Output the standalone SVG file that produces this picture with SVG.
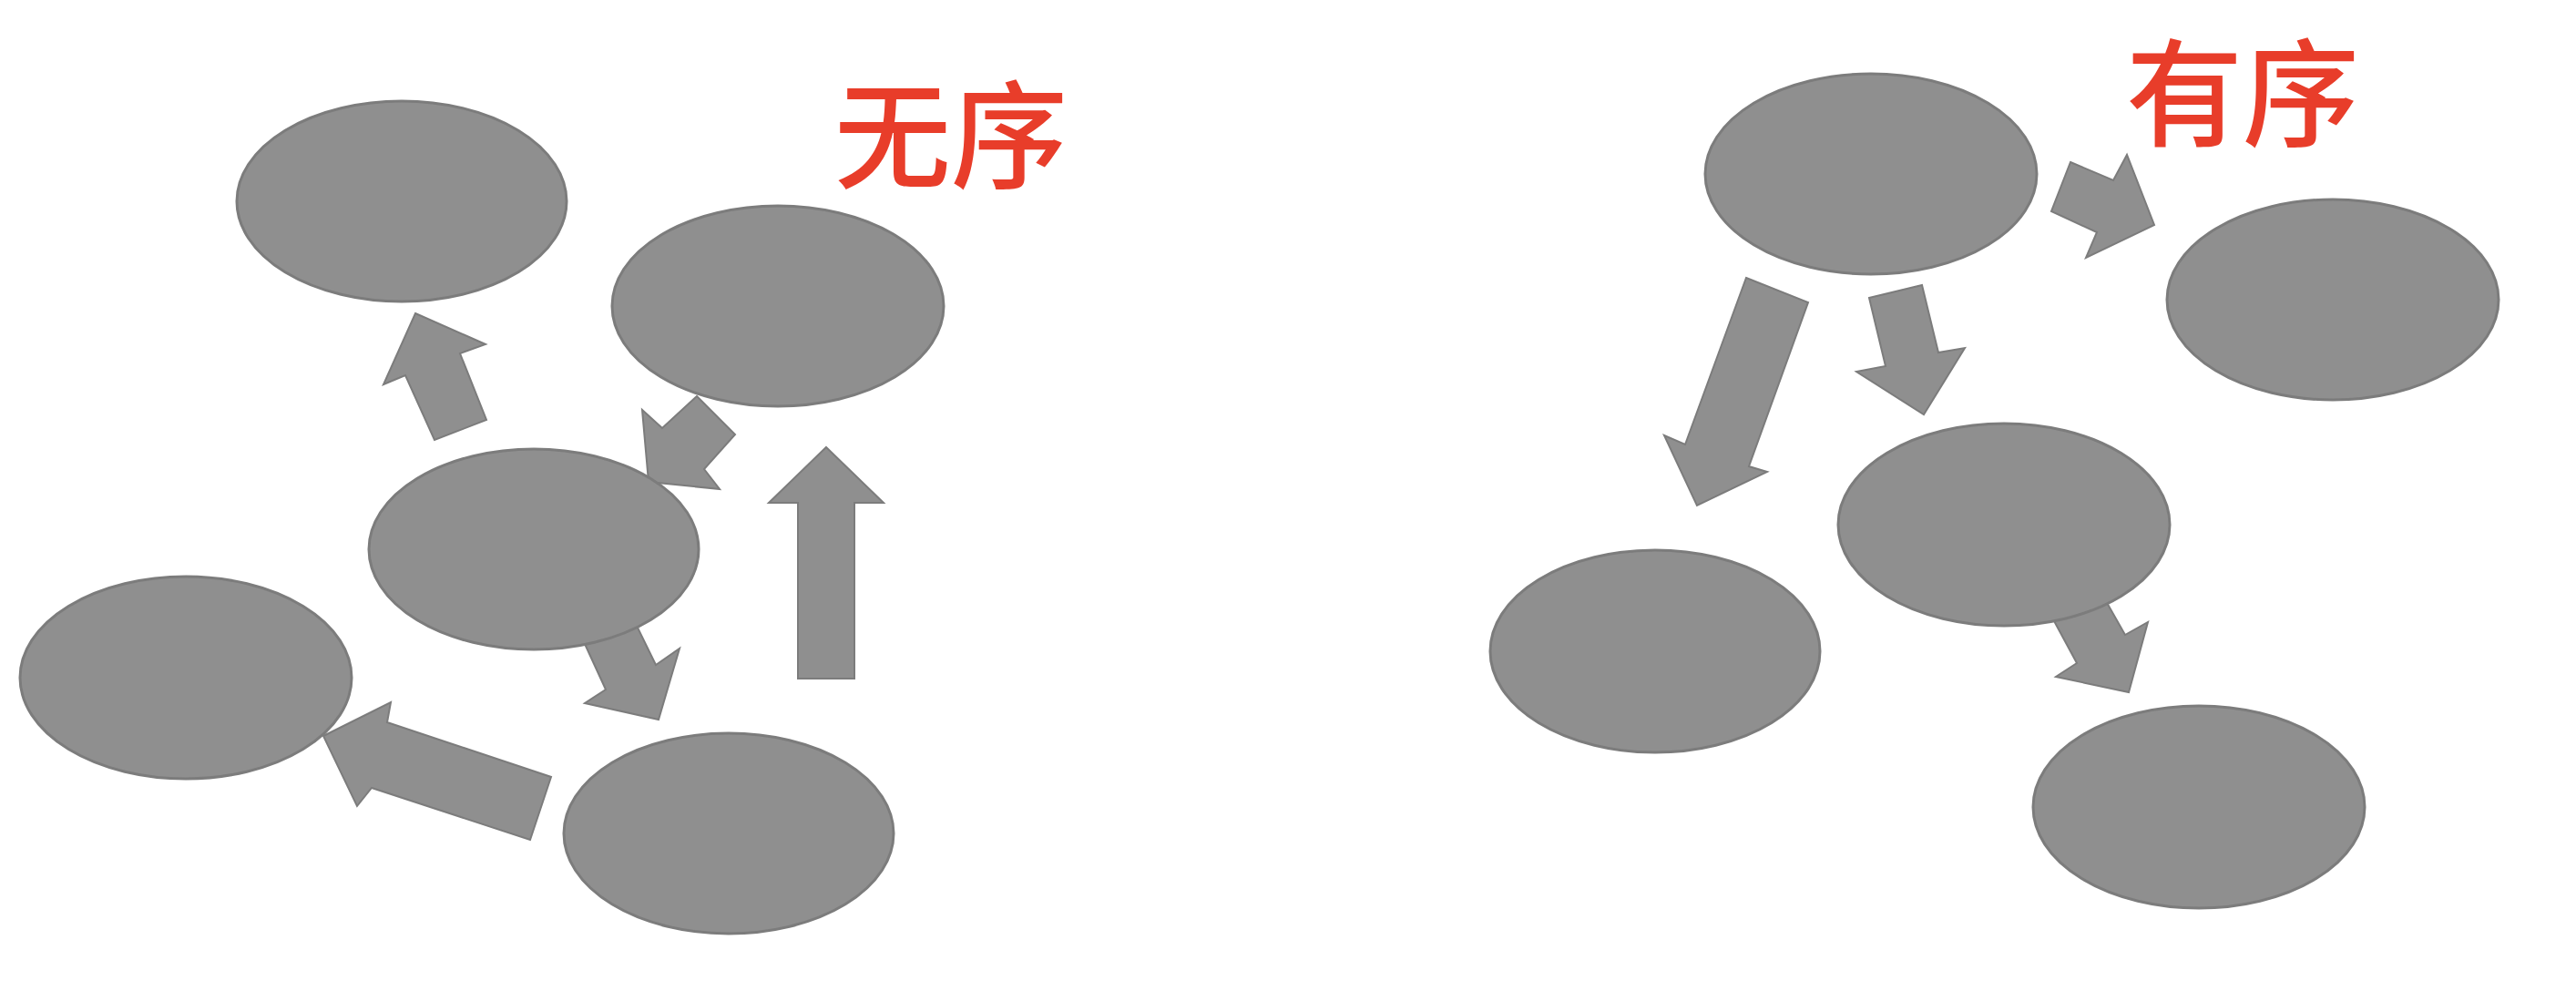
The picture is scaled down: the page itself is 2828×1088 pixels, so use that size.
<svg xmlns="http://www.w3.org/2000/svg" width="2828" height="1088" viewBox="0 0 2828 1088">
<defs>
<style>
.node{fill:#8f8f8f;stroke:#7c7c7c;stroke-width:3}
.arrow{fill:#8f8f8f;stroke:#7c7c7c;stroke-width:2;stroke-linejoin:miter}
.label{font-family:"Noto Sans CJK SC","Noto Sans",sans-serif;font-size:128px;font-weight:500;fill:#e83d2a}
</style>
</defs>
<rect width="2828" height="1088" fill="#ffffff"/>
<g id="connectors">
<polygon class="arrow" points="456,344 533,378 505,388 534,461 477,483 445,412 421,422"/>
<polygon class="arrow" points="765,435 807,477 773,515 790,537 712,529 705,450 727,470"/>
<polygon class="arrow" points="907,491 970,552 938,552 938,745 876,745 876,552 844,552"/>
<polygon class="arrow" points="642,707 698,685 720,730 746,712 723,790 642,772 665,757"/>
<polygon class="arrow" points="355,808 429,771 425,793 605,853 582,922 408,865 392,885"/>
<polygon class="arrow" points="2273,178 2320,198 2335,170 2365,247 2290,283 2302,255 2252,232"/>
<polygon class="arrow" points="1917,305 1985,332 1920,512 1940,518 1863,555 1827,478 1850,488"/>
<polygon class="arrow" points="2052,327 2110,313 2128,387 2157,382 2112,455 2038,408 2070,402"/>
<polygon class="arrow" points="2253,678 2312,660 2333,697 2358,683 2337,760 2257,743 2280,728"/>
</g>
<g id="node-a"><ellipse class="node" cx="441" cy="221" rx="181" ry="110"/></g>
<g id="node-b"><ellipse class="node" cx="854" cy="336" rx="182" ry="110"/></g>
<g id="node-c"><ellipse class="node" cx="586" cy="603" rx="181" ry="110"/></g>
<g id="node-d"><ellipse class="node" cx="204" cy="744" rx="182" ry="111"/></g>
<g id="node-e"><ellipse class="node" cx="800" cy="915" rx="181" ry="110"/></g>
<g id="node-f"><ellipse class="node" cx="2054" cy="191" rx="182" ry="110"/></g>
<g id="node-g"><ellipse class="node" cx="2561" cy="329" rx="182" ry="110"/></g>
<g id="node-h"><ellipse class="node" cx="2200" cy="576" rx="182" ry="111"/></g>
<g id="node-i"><ellipse class="node" cx="1817" cy="715" rx="181" ry="111"/></g>
<g id="node-j"><ellipse class="node" cx="2414" cy="886" rx="182" ry="111"/></g>
<g id="labels">
<text class="label" x="916" y="197">无序</text>
<text class="label" x="2334" y="151">有序</text>
</g>
</svg>
